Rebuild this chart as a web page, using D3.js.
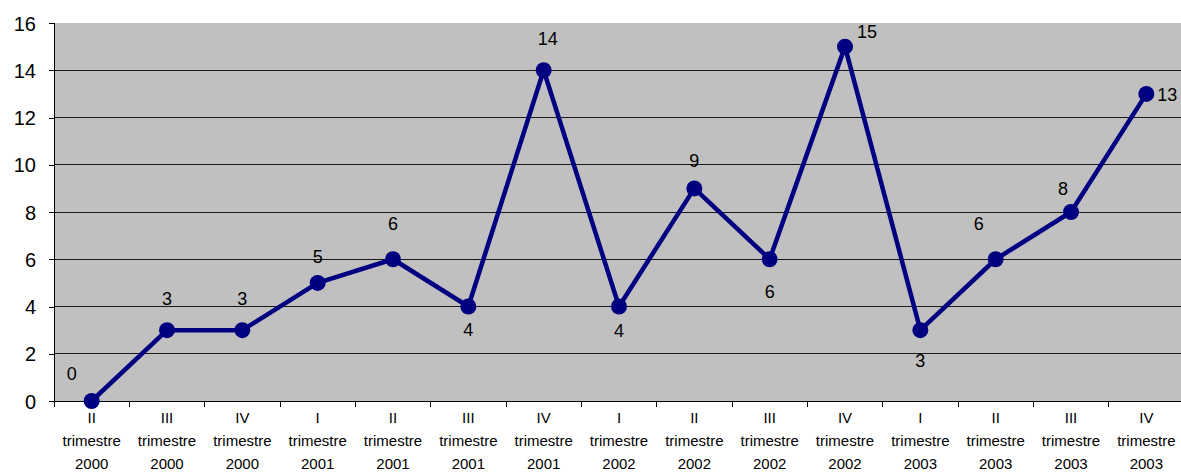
<!DOCTYPE html>
<html>
<head>
<meta charset="utf-8">
<script src="https://cdn.jsdelivr.net/npm/d3@7"></script>
<style>
  html, body { margin: 0; padding: 0; background: #fff; }
  svg { display: block; }
  text { font-family: "Liberation Sans", Arial, sans-serif; fill: #000; }
</style>
</head>
<body>
<svg id="chart" width="1181" height="473"></svg>
<script>
// Quarters shown along the x axis
const quarters = ["II", "III", "IV", "I", "II", "III", "IV", "I", "II", "III", "IV", "I", "II", "III", "IV"];
const years = ["2000", "2000", "2000", "2001", "2001", "2001", "2001", "2002", "2002", "2002", "2002", "2003", "2003", "2003", "2003"];
const values = [0, 3, 3, 5, 6, 4, 14, 4, 9, 6, 15, 3, 6, 8, 13];
const yTicks = [0, 2, 4, 6, 8, 10, 12, 14, 16];
// value label placement relative to each point: [dx, dy baseline, anchor]
const labelPlace = [
  [-20, -21, "middle"], [0, -25, "middle"], [0, -25, "middle"], [0, -20, "middle"],
  [0, -29, "middle"], [0, 29, "middle"], [4, -25, "middle"], [0, 30, "middle"],
  [0, -21, "middle"], [0, 39, "middle"], [22, -9, "middle"], [0, 37, "middle"],
  [-17, -29, "middle"], [-8, -17, "middle"], [11, 7, "start"]
];

const svg = d3.select("#chart");
const margin = { left: 54, top: 23, right: -3, bottom: 72 };
const W = 1181, H = 473;
const plotW = W - margin.left - margin.right;
const plotH = H - margin.top - margin.bottom;

const x = d3.scaleBand().domain(d3.range(values.length)).range([0, plotW]).padding(0);
const y = d3.scaleLinear().domain([0, 16]).range([plotH, 0]);

const g = svg.append("g").attr("transform", `translate(${margin.left},${margin.top})`);

// plot background
g.append("rect").attr("x", 0).attr("y", 0).attr("width", plotW).attr("height", plotH).attr("fill", "#c0c0c0");

// horizontal gridlines
g.selectAll("line.grid").data(yTicks.filter(v => v > 0 && v < 16)).enter().append("line")
  .attr("class", "grid")
  .attr("x1", 0).attr("x2", plotW)
  .attr("y1", d => y(d)).attr("y2", d => y(d))
  .attr("stroke", "#1a1a1a").attr("stroke-width", 1).attr("shape-rendering", "crispEdges");

// y axis
const yAxis = d3.axisLeft(y).tickValues(yTicks).tickSize(5).tickPadding(13).tickFormat(d3.format("d"));
const ya = g.append("g").call(yAxis);
ya.select(".domain").attr("stroke", "#000").attr("shape-rendering", "crispEdges");
ya.selectAll(".tick line").attr("stroke", "#000").attr("shape-rendering", "crispEdges");
ya.selectAll("text").style("font-size", "20px").attr("dy", "0.35em");

// x axis with tick marks on category boundaries
const xa = g.append("g").attr("transform", `translate(0,${plotH})`);
xa.append("line").attr("x1", 0).attr("x2", plotW).attr("y1", 0).attr("y2", 0)
  .attr("stroke", "#000").attr("shape-rendering", "crispEdges");
xa.selectAll("line.tk").data(d3.range(values.length + 1)).enter().append("line")
  .attr("class", "tk")
  .attr("x1", i => i * x.bandwidth()).attr("x2", i => i * x.bandwidth())
  .attr("y1", 0).attr("y2", 6)
  .attr("stroke", "#000").attr("shape-rendering", "crispEdges");

const cx = i => x(i) + x.bandwidth() / 2;
const lbl = xa.selectAll("text.cat").data(values.map((v, i) => i)).enter().append("text")
  .attr("class", "cat")
  .attr("text-anchor", "middle")
  .attr("x", cx)
  .style("font-size", "15px");
lbl.append("tspan").attr("x", cx).attr("y", 22).text(i => quarters[i]);
lbl.append("tspan").attr("x", cx).attr("y", 45).text("trimestre");
lbl.append("tspan").attr("x", cx).attr("y", 68).text(i => years[i]);

// series line
const line = d3.line().x((d, i) => cx(i)).y(d => y(d));
g.append("path").datum(values).attr("d", line)
  .attr("fill", "none").attr("stroke", "#000080").attr("stroke-width", 4.5)
  .attr("stroke-linejoin", "round");

g.selectAll("circle.pt").data(values).enter().append("circle")
  .attr("class", "pt")
  .attr("cx", (d, i) => cx(i)).attr("cy", d => y(d)).attr("r", 8)
  .attr("fill", "#000080");

// value labels
g.selectAll("text.val").data(values).enter().append("text")
  .attr("class", "val")
  .attr("x", (d, i) => cx(i) + labelPlace[i][0])
  .attr("y", (d, i) => y(d) + labelPlace[i][1])
  .attr("text-anchor", (d, i) => labelPlace[i][2])
  .style("font-size", "18px")
  .text(d => d);
</script>
</body>
</html>
